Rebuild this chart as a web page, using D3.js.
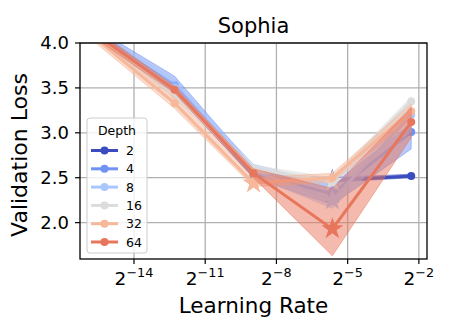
<!DOCTYPE html>
<html>
<head>
<meta charset="utf-8">
<script src="https://cdn.jsdelivr.net/npm/d3@7"></script>
<style>
  body { margin: 0; background: #fff; }
  text { font-family: "DejaVu Sans", sans-serif; }
</style>
</head>
<body>
<svg id="chart"></svg>
<script>
const W = 449, H = 336
const margins = { top: 43, bottom: 77, left: 80, right: 22 }

// learning rates used in the sweep
const lrs = [2e-5, 2e-4, 2e-3, 2e-2, 2e-1]
const depths = ["2", "4", "8", "16", "32", "64"]
const colors = ["#3b4cc0", "#6f92f3", "#aac7fd", "#dcdcdc", "#f6b79a", "#e8765c"]

// mean validation loss per depth
const loss2  = [4.12, 3.46, 2.53, 2.47, 2.52]
const loss4  = [4.10, 3.53, 2.55, 2.32, 3.01]
const loss8  = [4.10, 3.50, 2.58, 2.25, 3.20]
const loss16 = [4.09, 3.42, 2.60, 2.46, 3.35]
const loss32 = [4.05, 3.33, 2.44, 2.50, 3.24]
const loss64 = [4.10, 3.48, 2.55, 1.93, 3.12]

// band (min / max over runs)
const low2  = [4.09, 3.44, 2.51, 2.45, 2.50]
const high2 = [4.15, 3.49, 2.55, 2.50, 2.54]
const low4  = [4.05, 3.45, 2.50, 2.20, 2.82]
const high4 = [4.16, 3.63, 2.62, 2.42, 3.10]
const low8  = [4.05, 3.42, 2.52, 2.16, 3.02]
const high8 = [4.15, 3.58, 2.65, 2.42, 3.30]
const low16  = [4.05, 3.38, 2.56, 2.43, 3.30]
const high16 = [4.13, 3.46, 2.64, 2.50, 3.40]
const low32  = [4.00, 3.27, 2.40, 2.45, 3.15]
const high32 = [4.10, 3.40, 2.50, 2.55, 3.32]
const low64  = [4.05, 3.44, 2.50, 1.63, 2.95]
const high64 = [4.15, 3.52, 2.60, 2.38, 3.28]

const xTicks = [-14, -11, -8, -5, -2]
const yTicks = [2.0, 2.5, 3.0, 3.5, 4.0]

const means = [loss2, loss4, loss8, loss16, loss32, loss64]
const lows = [low2, low4, low8, low16, low32, low64]
const highs = [high2, high4, high8, high16, high32, high64]

const series = depths.map((d, i) => ({
  name: d,
  color: colors[i],
  points: lrs.map((lr, j) => ({ lr: lr, y: means[i][j], lo: lows[i][j], hi: highs[i][j] }))
}))

const svg = d3.select("#chart").attr("width", W).attr("height", H)

// matplotlib style 5% margin in log space
const lmin = Math.log2(d3.min(lrs)), lmax = Math.log2(d3.max(lrs))
const pad = (lmax - lmin) * 0.05
const x = d3.scaleLog().base(2)
  .domain([Math.pow(2, lmin - pad), Math.pow(2, lmax + pad)])
  .range([margins.left, W - margins.right])
const y = d3.scaleLinear()
  .domain([1.595, 4.0])
  .range([H - margins.bottom, margins.top])

svg.append("defs").append("clipPath").attr("id", "clip")
  .append("rect")
  .attr("x", margins.left).attr("y", margins.top)
  .attr("width", W - margins.left - margins.right)
  .attr("height", H - margins.top - margins.bottom)

// grid
const grid = svg.append("g")
grid.selectAll(".gx").data(xTicks).enter().append("line")
  .attr("x1", d => x(Math.pow(2, d))).attr("x2", d => x(Math.pow(2, d)))
  .attr("y1", margins.top).attr("y2", H - margins.bottom)
  .attr("stroke", "#b0b0b0").attr("stroke-width", 1.3)
grid.selectAll(".gy").data(yTicks).enter().append("line")
  .attr("x1", margins.left).attr("x2", W - margins.right)
  .attr("y1", d => y(d)).attr("y2", d => y(d))
  .attr("stroke", "#b0b0b0").attr("stroke-width", 1.3)

const plot = svg.append("g").attr("clip-path", "url(#clip)")

const area = d3.area()
  .x(d => x(d.lr)).y0(d => y(d.lo)).y1(d => y(d.hi))
const line = d3.line()
  .x(d => x(d.lr)).y(d => y(d.y))

const star = d3.symbol().type(d3.symbolStar).size(150)

series.forEach(function(s) {
  plot.append("path")
    .datum(s.points)
    .attr("d", area)
    .attr("fill", s.color)
    .attr("fill-opacity", 0.5)
    .attr("stroke", s.color)
    .attr("stroke-opacity", 0.5)
    .attr("stroke-width", 1)

  plot.append("path")
    .datum(s.points)
    .attr("d", line)
    .attr("fill", "none")
    .attr("stroke", s.color)
    .attr("stroke-width", 3)

  plot.selectAll(null)
    .data(s.points)
    .enter().append("circle")
    .attr("cx", d => x(d.lr))
    .attr("cy", d => y(d.y))
    .attr("r", 4)
    .attr("fill", s.color)

  // star on the best learning rate
  const best = d3.least(s.points, d => d.y)
  plot.append("path")
    .attr("d", star)
    .attr("transform", "translate(" + x(best.lr) + "," + y(best.y) + ")")
    .attr("fill", s.color)
})

// spines
svg.append("rect")
  .attr("x", margins.left).attr("y", margins.top)
  .attr("width", W - margins.left - margins.right)
  .attr("height", H - margins.top - margins.bottom)
  .attr("fill", "none").attr("stroke", "#000").attr("stroke-width", 1.3)

// x ticks
const xt = svg.append("g").selectAll("g").data(xTicks).enter().append("g")
  .attr("transform", d => "translate(" + x(Math.pow(2, d)) + "," + (H - margins.bottom) + ")")
xt.append("line").attr("y1", 0).attr("y2", 5).attr("stroke", "#000").attr("stroke-width", 1.2)
xt.append("text")
  .attr("y", 26)
  .attr("text-anchor", "middle")
  .attr("font-size", "18.5px")
  .each(function(d) {
    const t = d3.select(this)
    t.append("tspan").text("2")
    t.append("tspan").attr("dy", -8.5).attr("font-size", "12.8px").text("\u2212" + Math.abs(d))
  })

// y ticks
const yt = svg.append("g").selectAll("g").data(yTicks).enter().append("g")
  .attr("transform", d => "translate(" + margins.left + "," + y(d) + ")")
yt.append("line").attr("x1", 0).attr("x2", -5).attr("stroke", "#000").attr("stroke-width", 1.2)
yt.append("text")
  .attr("x", -11)
  .attr("dy", "0.36em")
  .attr("text-anchor", "end")
  .attr("font-size", "18px")
  .text(d => d.toFixed(1))

// labels
svg.append("text")
  .attr("x", (margins.left + W - margins.right) / 2).attr("y", 33)
  .attr("text-anchor", "middle").attr("font-size", "21px")
  .text("Sophia")
svg.append("text")
  .attr("x", (margins.left + W - margins.right) / 2).attr("y", 312.5)
  .attr("text-anchor", "middle").attr("font-size", "21.5px")
  .text("Learning Rate")
svg.append("text")
  .attr("transform", "translate(27," + ((margins.top + H - margins.bottom) / 2 + 4) + ") rotate(-90)")
  .attr("text-anchor", "middle").attr("font-size", "22px")
  .text("Validation Loss")

// legend
const legend = svg.append("g").attr("transform", "translate(87,118)")
legend.append("rect")
  .attr("width", 60).attr("height", 135)
  .attr("rx", 3)
  .attr("fill", "#fff").attr("fill-opacity", 0.8)
  .attr("stroke", "#cccccc").attr("stroke-width", 1)
legend.append("text")
  .attr("x", 30).attr("y", 16.5)
  .attr("text-anchor", "middle").attr("font-size", "12.5px")
  .text("Depth")
const item = legend.selectAll(".item").data(series).enter().append("g")
  .attr("transform", (d, i) => "translate(0," + (32.5 + i * 18.3) + ")")
item.append("line")
  .attr("x1", 4).attr("x2", 31)
  .attr("stroke", d => d.color).attr("stroke-width", 3)
item.append("circle")
  .attr("cx", 17.5).attr("r", 4)
  .attr("fill", d => d.color)
item.append("text")
  .attr("x", 39).attr("dy", "0.36em")
  .attr("font-size", "12.5px")
  .text(d => d.name)
</script>
</body>
</html>
